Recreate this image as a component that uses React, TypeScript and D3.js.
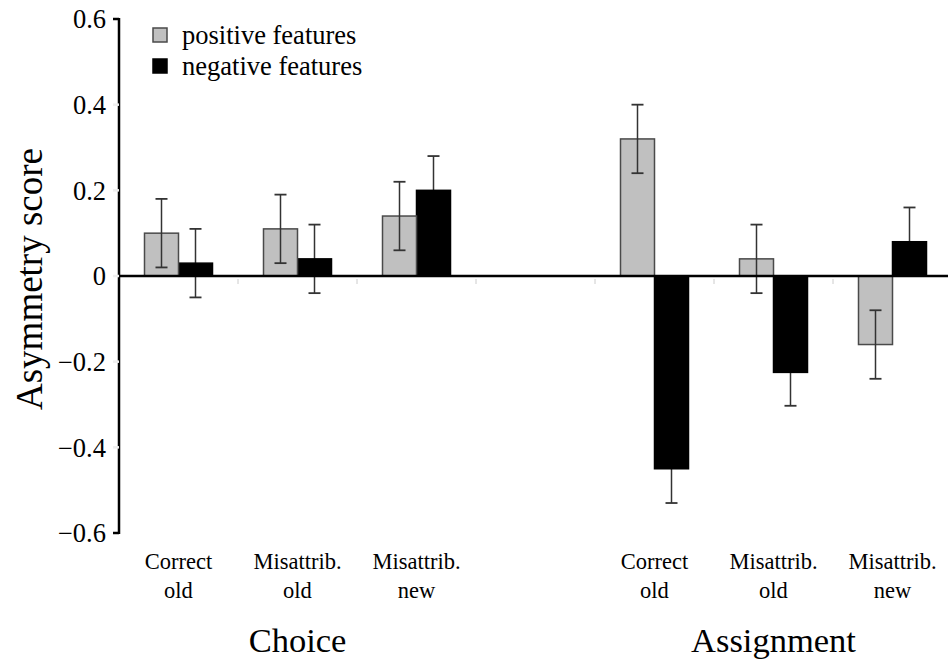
import React, { useEffect, useRef } from "react";
import { select, scaleBand, scaleLinear } from "d3";

const categories = ["Correct old", "Misattrib. old", "Misattrib. new", "", "Correct old ", "Misattrib. old ", "Misattrib. new "];
const labelLines = [["Correct", "old"], ["Misattrib.", "old"], ["Misattrib.", "new"], [], ["Correct", "old"], ["Misattrib.", "old"], ["Misattrib.", "new"]];
const keys = ["positive", "negative"];
const legendLabels = ["positive features", "negative features"];
const colors: Record<string, string> = { positive: "#c0c0c0", negative: "#000000" };

const positiveValues = [0.1, 0.11, 0.14, null, 0.32, 0.04, -0.16];
const positiveErr = [0.08, 0.08, 0.08, null, 0.08, 0.08, 0.08];
const negativeValues = [0.03, 0.04, 0.2, null, -0.45, -0.225, 0.08];
const negativeErr = [0.08, 0.08, 0.08, null, 0.08, 0.078, 0.08];

const yTicks = [0.6, 0.4, 0.2, 0, -0.2, -0.4, -0.6];
const groups = [
  { name: "Choice", from: 0, to: 2 },
  { name: "Assignment", from: 4, to: 6 },
];

const W = 948;
const H = 659;
const FONT = "Liberation Serif";

export default function App() {
  const svgRef = useRef<SVGSVGElement>(null);

  useEffect(() => {
    const svg = select(svgRef.current);
    svg.selectAll("*").remove();

    const xScale = scaleBand().domain(categories).range([119, 952]);
    const x1 = scaleBand().domain(keys).range([0, 68]);
    const yScale = scaleLinear().domain([-0.6, 0.6]).range([533, 19]);

    const rows = categories.map((c, i) => ({
      cat: c,
      bars: [
        { key: "positive", v: positiveValues[i], e: positiveErr[i] },
        { key: "negative", v: negativeValues[i], e: negativeErr[i] },
      ],
    }));

    const off = (xScale.bandwidth() - 68) / 2;
    const g = svg.append("g");

    const drawErr = (cat: string, b: any) => {
      if (b.v === null || b.e === null) return;
      const cx = (xScale(cat) as number) + off + (x1(b.key) as number) + x1.bandwidth() / 2;
      const hi = yScale(b.v + b.e);
      const lo = yScale(b.v - b.e);
      const col = "#333";
      g.append("line").attr("x1", cx).attr("x2", cx).attr("y1", hi).attr("y2", lo).attr("stroke", col).attr("stroke-width", 1.5);
      [hi, lo].forEach((yy) =>
        g.append("line").attr("x1", cx - 6).attr("x2", cx + 6).attr("y1", yy).attr("y2", yy).attr("stroke", col).attr("stroke-width", 1.8)
      );
    };

    const drawBar = (cat: string, b: any) => {
      if (b.v === null) return;
      const x = (xScale(cat) as number) + off + (x1(b.key) as number);
      const y0 = yScale(Math.max(0, b.v));
      const y1 = yScale(Math.min(0, b.v));
      g.append("rect")
        .attr("x", x)
        .attr("y", y0)
        .attr("width", x1.bandwidth())
        .attr("height", y1 - y0)
        .attr("fill", colors[b.key])
        .attr("stroke", b.key === "positive" ? "#4a4a4a" : "#000")
        .attr("stroke-width", 1.5);
    };

    // negative: error bar under the black bar; positive: error bar over the grey bar
    rows.forEach((r) => drawErr(r.cat, r.bars[1]));
    rows.forEach((r) => drawBar(r.cat, r.bars[1]));
    rows.forEach((r) => drawBar(r.cat, r.bars[0]));
    rows.forEach((r) => drawErr(r.cat, r.bars[0]));

    // zero line and category ticks
    svg.append("line").attr("x1", 119).attr("x2", W).attr("y1", yScale(0)).attr("y2", yScale(0)).attr("stroke", "#000").attr("stroke-width", 2.5);
    categories.slice(1).forEach((c) => {
      const xx = xScale(c) as number;
      svg.append("line").attr("x1", xx).attr("x2", xx).attr("y1", yScale(0) + 3).attr("y2", yScale(0) + 8).attr("stroke", "#ccc").attr("stroke-width", 1);
    });

    // y axis
    svg.append("line").attr("x1", 119).attr("x2", 119).attr("y1", yScale(0.6) - 1).attr("y2", yScale(-0.6) + 1).attr("stroke", "#000").attr("stroke-width", 2.5);
    yTicks.forEach((t) => {
      const yy = yScale(t);
      const end = t === 0.6 || t === -0.6;
      svg.append("line").attr("x1", 113).attr("x2", 119).attr("y1", yy).attr("y2", yy).attr("stroke", end ? "#000" : "#eee").attr("stroke-width", 2.5);
      svg.append("text")
        .attr("x", 106)
        .attr("y", yy)
        .attr("dy", "0.35em")
        .attr("text-anchor", "end")
        .style("font-family", FONT)
        .attr("font-size", 26.5)
        .text(t === 0 ? "0" : (t < 0 ? "\u2212" : "") + Math.abs(t).toFixed(1));
    });

    svg.append("text")
      .attr("transform", `translate(42, 279) rotate(-90)`)
      .attr("text-anchor", "middle")
      .style("font-family", FONT)
      .attr("font-size", 37)
      .text("Asymmetry score");

    // category labels
    categories.forEach((c, i) => {
      const cx = (xScale(c) as number) + xScale.bandwidth() / 2;
      labelLines[i].forEach((line, j) => {
        svg.append("text")
          .attr("x", cx)
          .attr("y", 569 + j * 29)
          .attr("text-anchor", "middle")
          .style("font-family", FONT)
          .attr("font-size", 22.5)
          .text(line);
      });
    });

    groups.forEach((gr) => {
      const a = xScale(categories[gr.from]) as number;
      const b = (xScale(categories[gr.to]) as number) + xScale.bandwidth();
      svg.append("text")
        .attr("x", (a + b) / 2)
        .attr("y", 652)
        .attr("text-anchor", "middle")
        .style("font-family", FONT)
        .attr("font-size", 34.5)
        .text(gr.name);
    });

    // legend
    keys.forEach((k, i) => {
      const ly = 35 + i * 31;
      svg.append("rect")
        .attr("x", 153)
        .attr("y", ly - 7)
        .attr("width", 14)
        .attr("height", 14)
        .attr("fill", colors[k])
        .attr("stroke", k === "positive" ? "#4a4a4a" : "#000")
        .attr("stroke-width", 1.5);
      svg.append("text")
        .attr("x", 182)
        .attr("y", ly)
        .attr("dy", "0.33em")
        .style("font-family", FONT)
        .attr("font-size", 26.5)
        .text(legendLabels[i]);
    });
  }, []);

  return (
    <div>
      <svg ref={svgRef} width={W} height={H} style={{ position: "absolute", left: 0, top: 0, background: "#fff" }} />
    </div>
  );
}
